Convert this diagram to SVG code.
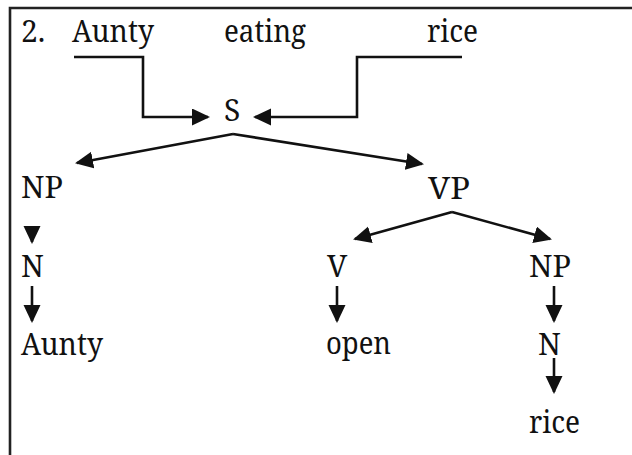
<svg xmlns="http://www.w3.org/2000/svg" width="632" height="455" viewBox="0 0 632 455">
  <style>
    .c { stroke: #111; stroke-width: 2.6; fill: none; }
    .frame { stroke: #222; stroke-width: 2.6; fill: none; }
  </style>
  <defs>
    <marker id="arr" markerUnits="userSpaceOnUse" markerWidth="20" markerHeight="18" refX="16" refY="8.5" orient="auto">
      <path d="M0,0 L18,8.5 L0,17 z" fill="#111"/>
    </marker>
  </defs>
  <rect width="632" height="455" fill="#fff"/>
  <path class="frame" d="M10,455 L10,8 L632,8"/>

  <g font-family="'Noto Serif', 'DejaVu Serif', serif" font-size="30" fill="#111" lengthAdjust="spacingAndGlyphs">
    <g id="sentence">
      <text x="21" y="42">2.</text>
      <text x="72" y="42" textLength="82" lengthAdjust="spacingAndGlyphs">Aunty</text>
      <text x="224" y="42" textLength="82" lengthAdjust="spacingAndGlyphs">eating</text>
      <text x="427" y="42" textLength="51" lengthAdjust="spacingAndGlyphs">rice</text>
    </g>
    <g id="S"><text x="224" y="121">S</text></g>
    <g id="NP1"><text x="21" y="198" textLength="42" lengthAdjust="spacingAndGlyphs">NP</text></g>
    <g id="VP"><text x="428" y="199" textLength="42" lengthAdjust="spacingAndGlyphs">VP</text></g>
    <g id="N1"><text x="21" y="277">N</text></g>
    <g id="Aunty"><text x="21" y="355" textLength="82" lengthAdjust="spacingAndGlyphs">Aunty</text></g>
    <g id="V"><text x="327" y="277">V</text></g>
    <g id="NP2"><text x="529" y="277" textLength="42" lengthAdjust="spacingAndGlyphs">NP</text></g>
    <g id="open"><text x="326" y="354" textLength="65" lengthAdjust="spacingAndGlyphs">open</text></g>
    <g id="N2"><text x="538" y="355">N</text></g>
    <g id="rice"><text x="529" y="433" textLength="51" lengthAdjust="spacingAndGlyphs">rice</text></g>
  </g>

  <g id="connectors" class="c">
    <path d="M74,57 L143,57 L143,117 L208,117" marker-end="url(#arr)"/>
    <path d="M462,57 L357,57 L357,117 L255,117" marker-end="url(#arr)"/>
    <path d="M233,134 L77,163" marker-end="url(#arr)"/>
    <path d="M233,134 L422,164" marker-end="url(#arr)"/>
    <path d="M452,212 L355,239" marker-end="url(#arr)"/>
    <path d="M452,212 L550,239" marker-end="url(#arr)"/>
    <path d="M32,226 L32,242" marker-end="url(#arr)"/>
    <path d="M32,286 L32,321" marker-end="url(#arr)"/>
    <path d="M337,286 L337,321" marker-end="url(#arr)"/>
    <path d="M554,286 L554,321" marker-end="url(#arr)"/>
    <path d="M554,358 L554,392" marker-end="url(#arr)"/>
  </g>
</svg>
